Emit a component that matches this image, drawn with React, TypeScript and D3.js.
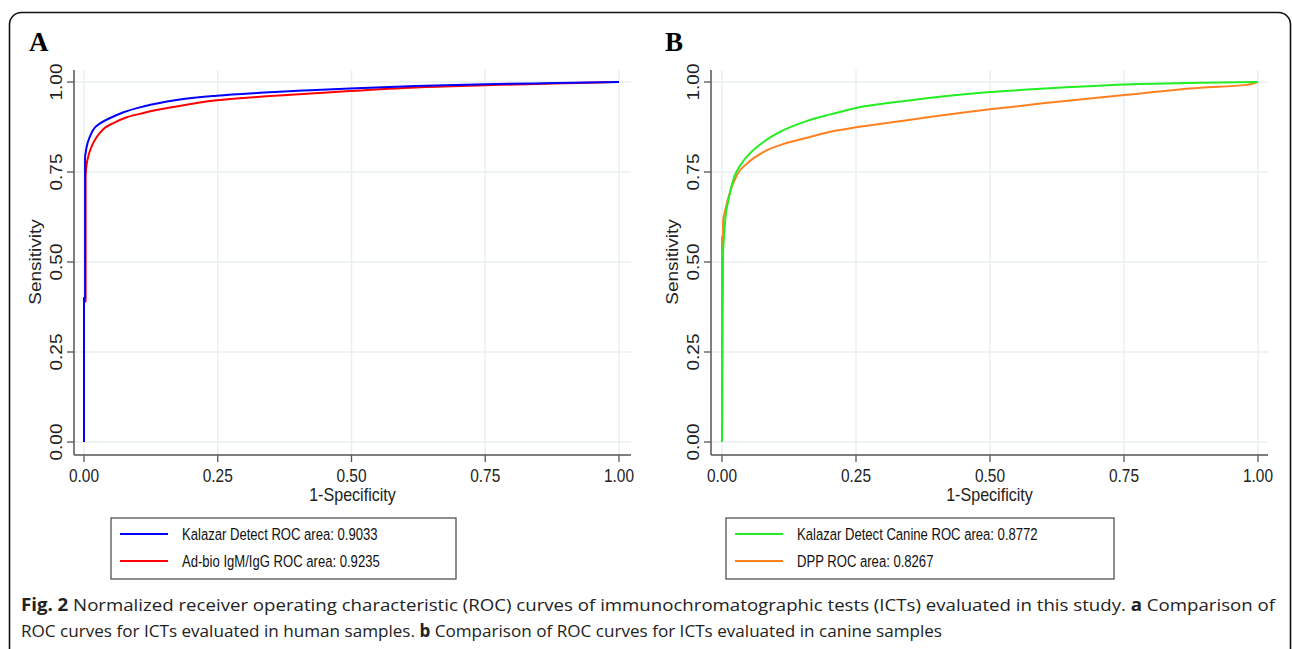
import React from "react";
import * as d3 from "d3";

// ---------- DATA ----------
const kalazarFpr = [0, 0, 0.002, 0.002, 0.005, 0.011, 0.017, 0.03, 0.049, 0.074, 0.111, 0.173, 0.248, 0.329, 0.423, 0.497, 0.62, 0.75, 0.88, 1];
const kalazarTpr = [0, 0.4, 0.4, 0.793, 0.82, 0.848, 0.867, 0.885, 0.9, 0.916, 0.932, 0.95, 0.962, 0.97, 0.977, 0.982, 0.989, 0.994, 0.997, 1];

const adbioFpr = [0, 0, 0.003, 0.003, 0.004, 0.008, 0.014, 0.024, 0.036, 0.055, 0.08, 0.111, 0.173, 0.248, 0.329, 0.423, 0.497, 0.62, 0.75, 0.88, 1];
const adbioTpr = [0, 0.39, 0.39, 0.74, 0.76, 0.793, 0.82, 0.848, 0.869, 0.886, 0.902, 0.914, 0.932, 0.949, 0.959, 0.968, 0.975, 0.985, 0.991, 0.996, 1];

const canineFpr = [0, 0.001, 0.001, 0.002, 0.006, 0.012, 0.022, 0.034, 0.053, 0.078, 0.109, 0.159, 0.202, 0.25, 0.345, 0.5, 0.594, 0.751, 0.892, 1];
const canineTpr = [0, 0.28, 0.28, 0.53, 0.617, 0.672, 0.733, 0.768, 0.803, 0.834, 0.862, 0.892, 0.91, 0.928, 0.948, 0.972, 0.981, 0.993, 0.998, 1];

const dppFpr = [0, 0, 0.002, 0.002, 0.012, 0.028, 0.047, 0.078, 0.115, 0.159, 0.202, 0.25, 0.345, 0.5, 0.594, 0.751, 0.892, 0.979, 1];
const dppTpr = [0, 0.57, 0.57, 0.617, 0.68, 0.742, 0.774, 0.806, 0.828, 0.845, 0.862, 0.874, 0.894, 0.924, 0.94, 0.964, 0.984, 0.992, 1];

const tickValues = [0, 0.25, 0.5, 0.75, 1];
const tickLabels = ["0.00", "0.25", "0.50", "0.75", "1.00"];

const panelALegend = ["Kalazar Detect ROC area: 0.9033", "Ad-bio IgM/IgG ROC area: 0.9235"];
const panelBLegend = ["Kalazar Detect Canine ROC area: 0.8772", "DPP ROC area: 0.8267"];

const captionLine1Bold = "Fig. 2";
const captionLine1 = " Normalized receiver operating characteristic (ROC) curves of immunochromatographic tests (ICTs) evaluated in this study. ";
const captionLine1b = "a";
const captionLine1c = " Comparison of";
const captionLine2a = "ROC curves for ICTs evaluated in human samples. ";
const captionLine2b = "b";
const captionLine2c = " Comparison of ROC curves for ICTs evaluated in canine samples";

// ---------- STYLE ----------
const AXIS = "#555555";
const GRID = "#e8f0f2";
const SANS = "'Liberation Sans', Arial, sans-serif";
const BLUE = "#0000ff";
const RED = "#ff0000";
const GREEN = "#22ee22";
const ORANGE = "#ff8020";

type Series = { fpr: number[]; tpr: number[]; color: string; straight: number };

type PanelCfg = {
  letter: string;
  letterX: number;
  axisX: number;
  x0: number;
  x1: number;
  right: number;
  series: Series[];
  legend: string[];
  legendColors: string[];
  legendX: number;
  legendW: number;
};

const TOP = 70;
const Y1 = 82;
const Y0 = 442;
const BOTTOM = 455;
const SQ = 0.85;

function Panel({ cfg }: { cfg: PanelCfg }) {
  const x = d3.scaleLinear().domain([0, 1]).range([cfg.x0, cfg.x1]);
  const y = d3.scaleLinear().domain([0, 1]).range([Y0, Y1]);
  const straight = d3
    .line<[number, number]>()
    .x((d) => x(d[0]))
    .y((d) => y(d[1]))
    .curve(d3.curveLinear);
  const smooth = d3
    .line<[number, number]>()
    .x((d) => x(d[0]))
    .y((d) => y(d[1]))
    .curve(d3.curveMonotoneX);
  const pathFor = (s: Series) => {
    const pts = s.fpr.map((f, j) => [f, s.tpr[j]] as [number, number]);
    const a = pts.slice(0, s.straight);
    const b = pts.slice(s.straight - 1);
    return (straight(a) || "") + (smooth(b) || "");
  };
  const titleX = (cfg.axisX + cfg.right) / 2;
  const midY = (Y0 + Y1) / 2;
  return (
    <g>
      <text x={cfg.letterX} y={51} fontFamily="'Liberation Serif', 'Times New Roman', serif" fontWeight="bold" fontSize={27}>
        {cfg.letter}
      </text>
      {tickValues.map((t, i) => (
        <g key={"g" + i}>
          <line x1={cfg.axisX} x2={cfg.right} y1={y(t)} y2={y(t)} stroke={GRID} strokeWidth={1.5} />
          <line x1={x(t)} x2={x(t)} y1={TOP} y2={BOTTOM} stroke={GRID} strokeWidth={1.5} />
        </g>
      ))}
      <line x1={cfg.axisX} x2={cfg.axisX} y1={TOP} y2={BOTTOM} stroke={AXIS} strokeWidth={1.5} />
      <line x1={cfg.axisX} x2={cfg.right} y1={BOTTOM} y2={BOTTOM} stroke={AXIS} strokeWidth={1.5} />
      {tickValues.map((t, i) => (
        <g key={"t" + i}>
          <line x1={cfg.axisX - 7} x2={cfg.axisX} y1={y(t)} y2={y(t)} stroke={AXIS} strokeWidth={1.3} />
          <line x1={x(t)} x2={x(t)} y1={BOTTOM} y2={BOTTOM + 7} stroke={AXIS} strokeWidth={1.3} />
          <text
            transform={`translate(${cfg.axisX - 12},${y(t)}) rotate(-90) scale(1,${SQ})`}
            textAnchor="middle"
            fontFamily={SANS}
            fontSize={19}
            fill="#222"
          >
            {tickLabels[i]}
          </text>
          <text
            transform={`translate(${x(t)},${482}) scale(0.86,1)`}
            textAnchor="middle"
            fontFamily={SANS}
            fontSize={18}
            fill="#222"
          >
            {tickLabels[i]}
          </text>
        </g>
      ))}
      <text transform={`translate(${titleX},${501}) scale(0.92,1)`} textAnchor="middle" fontFamily={SANS} fontSize={17.5} fill="#222">
        1-Specificity
      </text>
      <text
        transform={`translate(${cfg.axisX - 33},${midY}) rotate(-90) scale(1,${SQ})`}
        textAnchor="middle"
        fontFamily={SANS}
        fontSize={19}
        fill="#222"
      >
        Sensitivity
      </text>
      {cfg.series.map((s, i) => (
        <path key={"s" + i} d={pathFor(s)} fill="none" stroke={s.color} strokeWidth={2} strokeLinejoin="round" />
      ))}
      <rect x={cfg.legendX} y={518} width={cfg.legendW} height={61} fill="white" stroke="#444" strokeWidth={1.2} />
      {cfg.legend.map((lab, i) => (
        <g key={"l" + i}>
          <line
            x1={cfg.legendX + 9}
            x2={cfg.legendX + 57}
            y1={534 + i * 27}
            y2={534 + i * 27}
            stroke={cfg.legendColors[i]}
            strokeWidth={2}
          />
          <text
            transform={`translate(${cfg.legendX + 71},${540 + i * 27}) scale(0.77,1)`}
            fontFamily={SANS}
            fontSize={17}
            fill="#111"
          >
            {lab}
          </text>
        </g>
      ))}
    </g>
  );
}

export default function App() {
  const panels: PanelCfg[] = [
    {
      letter: "A",
      letterX: 29,
      axisX: 74,
      x0: 84,
      x1: 619,
      right: 631,
      series: [
        { fpr: adbioFpr, tpr: adbioTpr, color: RED, straight: 4 },
        { fpr: kalazarFpr, tpr: kalazarTpr, color: BLUE, straight: 4 },
      ],
      legend: panelALegend,
      legendColors: [BLUE, RED],
      legendX: 111,
      legendW: 345,
    },
    {
      letter: "B",
      letterX: 665,
      axisX: 711,
      x0: 722,
      x1: 1258,
      right: 1268,
      series: [
        { fpr: dppFpr, tpr: dppTpr, color: ORANGE, straight: 4 },
        { fpr: canineFpr, tpr: canineTpr, color: GREEN, straight: 4 },
      ],
      legend: panelBLegend,
      legendColors: [GREEN, ORANGE],
      legendX: 726,
      legendW: 388,
    },
  ];

  return (
    <svg width={1292} height={649} style={{ position: "absolute", left: 0, top: 0, background: "white" }}>
      <rect x={0} y={0} width={1292} height={649} fill="white" />
      <rect x={9.5} y={12.5} width={1281} height={700} rx={12} ry={12} fill="none" stroke="#111" strokeWidth={1.6} />
      {panels.map((p, k) => (
        <Panel key={k} cfg={p} />
      ))}
      <text x={21} y={611} fontFamily="'Open Sans', 'Noto Sans', sans-serif" fontSize={17} fill="#222" textLength={1254} lengthAdjust="spacingAndGlyphs">
        <tspan fontWeight="bold">{captionLine1Bold}</tspan>
        <tspan>{captionLine1}</tspan>
        <tspan fontWeight="bold">{captionLine1b}</tspan>
        <tspan>{captionLine1c}</tspan>
      </text>
      <text x={21} y={637} fontFamily="'Open Sans', 'Noto Sans', sans-serif" fontSize={17} fill="#222" textLength={921} lengthAdjust="spacingAndGlyphs">
        <tspan>{captionLine2a}</tspan>
        <tspan fontWeight="bold">{captionLine2b}</tspan>
        <tspan>{captionLine2c}</tspan>
      </text>
    </svg>
  );
}
